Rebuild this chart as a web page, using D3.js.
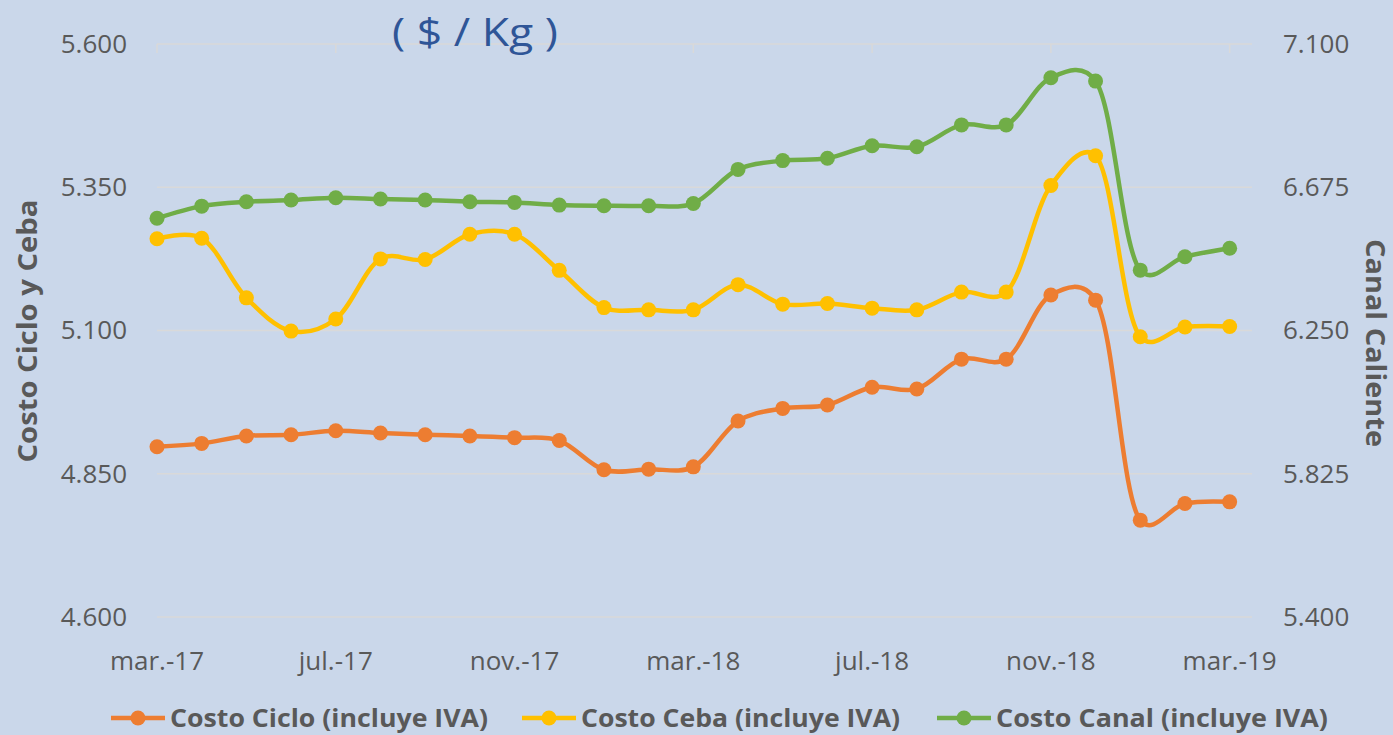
<!DOCTYPE html>
<html>
<head>
<meta charset="utf-8">
<script src="https://cdn.jsdelivr.net/npm/d3@7"></script>
<style>
  body { margin: 0; background: #cad7ea; }
  svg { display: block; }
</style>
</head>
<body>
<div id="chart-area"></div>
<script>
// Months (mar.-17 .. mar.-19)
var months = ["mar.-17","abr.-17","may.-17","jun.-17","jul.-17","ago.-17","sep.-17","oct.-17","nov.-17","dic.-17",
    "ene.-18","feb.-18","mar.-18","abr.-18","may.-18","jun.-18","jul.-18","ago.-18","sep.-18","oct.-18",
    "nov.-18","dic.-18","ene.-19","feb.-19","mar.-19"];

var costoCiclo = [4.897, 4.903, 4.916, 4.918, 4.925, 4.921, 4.918, 4.916, 4.913, 4.908,
    4.857, 4.858, 4.862, 4.942, 4.964, 4.970, 5.001, 4.998, 5.050, 5.050,
    5.162, 5.153, 4.769, 4.798, 4.801];

var costoCeba = [5.260, 5.261, 5.157, 5.099, 5.120, 5.225, 5.224, 5.268, 5.268, 5.205,
    5.140, 5.136, 5.136, 5.180, 5.146, 5.147, 5.139, 5.136, 5.167, 5.167,
    5.353, 5.405, 5.089, 5.106, 5.107];

var costoCanal = [6.583, 6.619, 6.632, 6.637, 6.644, 6.640, 6.637, 6.632, 6.630, 6.622,
    6.620, 6.620, 6.627, 6.728, 6.754, 6.761, 6.798, 6.795, 6.860, 6.860,
    7.000, 6.990, 6.429, 6.469, 6.494];

var leftTicks = [4.600, 4.850, 5.100, 5.350, 5.600];
var rightTicks = [5.400, 5.825, 6.250, 6.675, 7.100];
var labelMonths = [0, 4, 8, 12, 16, 20, 24];

var seriesNames = ["Costo Ciclo (incluye IVA)", "Costo Ceba (incluye IVA)", "Costo Canal (incluye IVA)"];
var seriesColors = ["#ed7d31", "#ffc000", "#70ad47"];

var width = 1393, height = 735;
var textColor = "#595959";
var font = "'Open Sans', 'Noto Sans', sans-serif";

var svg = d3.select("#chart-area")
    .append("svg")
    .attr("width", width)
    .attr("height", height);

svg.append("rect")
    .attr("width", width)
    .attr("height", height)
    .attr("fill", "#cad7ea");

// Scales
var x = d3.scaleLinear()
    .domain([0, 24.5])
    .range([157, 1252]);

var yLeft = d3.scaleLinear()
    .domain([4.6, 5.6])
    .range([617, 44]);

var yRight = d3.scaleLinear()
    .domain([5.4, 7.1])
    .range([617, 44]);

// Gridlines
svg.append("g")
    .selectAll("line")
    .data(leftTicks)
    .enter()
    .append("line")
    .attr("x1", x(0))
    .attr("x2", x(24.5))
    .attr("y1", function(d){ return yLeft(d); })
    .attr("y2", function(d){ return yLeft(d); })
    .attr("stroke", "#d9d9d9")
    .attr("stroke-width", 1.5);

// Category ticks on the top line
svg.append("g")
    .selectAll("line")
    .data(labelMonths)
    .enter()
    .append("line")
    .attr("x1", function(d){ return x(d); })
    .attr("x2", function(d){ return x(d); })
    .attr("y1", yLeft(5.6))
    .attr("y2", yLeft(5.6) + 9)
    .attr("stroke", "#d9d9d9")
    .attr("stroke-width", 1.5);

// Left axis
var leftAxis = d3.axisLeft(yLeft)
    .tickValues(leftTicks)
    .tickSize(0)
    .tickPadding(0)
    .tickFormat(d3.format(".3f"));

var gl = svg.append("g")
    .attr("transform", "translate(127,0)")
    .call(leftAxis);
gl.select(".domain").remove();
gl.selectAll("text")
    .attr("fill", textColor)
    .attr("font-family", font)
    .attr("font-size", "26px");

// Right axis
var rightAxis = d3.axisRight(yRight)
    .tickValues(rightTicks)
    .tickSize(0)
    .tickPadding(0)
    .tickFormat(d3.format(".3f"));

var gr = svg.append("g")
    .attr("transform", "translate(1283,0)")
    .call(rightAxis);
gr.select(".domain").remove();
gr.selectAll("text")
    .attr("fill", textColor)
    .attr("font-family", font)
    .attr("font-size", "26px");

// X labels
svg.append("g")
    .selectAll("text")
    .data(labelMonths)
    .enter()
    .append("text")
    .attr("x", function(d){ return x(d); })
    .attr("y", 670)
    .attr("text-anchor", "middle")
    .attr("fill", textColor)
    .attr("font-family", font)
    .attr("font-size", "26px")
    .text(function(d){ return months[d]; });

// Axis titles
svg.append("text")
    .attr("transform", "translate(37,331) rotate(-90)")
    .attr("text-anchor", "middle")
    .attr("fill", textColor)
    .attr("font-family", font)
    .attr("font-weight", "bold")
    .attr("font-size", "26px")
    .attr("textLength", 263)
    .attr("lengthAdjust", "spacingAndGlyphs")
    .text("Costo Ciclo y Ceba");

svg.append("text")
    .attr("transform", "translate(1366,343) rotate(90)")
    .attr("text-anchor", "middle")
    .attr("fill", textColor)
    .attr("font-family", font)
    .attr("font-weight", "bold")
    .attr("font-size", "26px")
    .attr("textLength", 208)
    .attr("lengthAdjust", "spacingAndGlyphs")
    .text("Canal Caliente");

// Title
svg.append("text")
    .attr("x", 392)
    .attr("y", 46)
    .attr("fill", "#2f5597")
    .attr("font-family", font)
    .attr("font-size", "38px")
    .attr("textLength", 166)
    .attr("lengthAdjust", "spacingAndGlyphs")
    .text("( $ / Kg )");

// Lines
var series = [
    { values: costoCiclo, y: yLeft },
    { values: costoCeba, y: yLeft },
    { values: costoCanal, y: yRight }
];

series.forEach(function(s, i){
    var line = d3.line()
        .x(function(d, j){ return x(j); })
        .y(function(d){ return s.y(d); })
        .curve(d3.curveCatmullRom.alpha(0.25));

    svg.append("path")
        .datum(s.values)
        .attr("d", line)
        .attr("fill", "none")
        .attr("stroke", seriesColors[i])
        .attr("stroke-width", 4.5)
        .attr("stroke-linejoin", "round")
        .attr("stroke-linecap", "round");

    svg.append("g")
        .selectAll("circle")
        .data(s.values)
        .enter()
        .append("circle")
        .attr("cx", function(d, j){ return x(j); })
        .attr("cy", function(d){ return s.y(d); })
        .attr("r", 7.5)
        .attr("fill", seriesColors[i]);
});

// Legend
var legendX = [111, 522, 937];
var legendW = [318, 319, 332];

var legend = svg.append("g")
    .selectAll("g")
    .data(seriesNames)
    .enter()
    .append("g")
    .attr("transform", function(d, i){ return "translate(" + legendX[i] + ",718)"; });

legend.append("line")
    .attr("x1", 0)
    .attr("x2", 54)
    .attr("stroke", function(d, i){ return seriesColors[i]; })
    .attr("stroke-width", 4.5);

legend.append("circle")
    .attr("cx", 27)
    .attr("r", 7.5)
    .attr("fill", function(d, i){ return seriesColors[i]; });

legend.append("text")
    .attr("x", 59)
    .attr("y", 9)
    .attr("fill", textColor)
    .attr("font-family", font)
    .attr("font-weight", "bold")
    .attr("font-size", "25px")
    .attr("textLength", function(d, i){ return legendW[i]; })
    .attr("lengthAdjust", "spacingAndGlyphs")
    .text(function(d){ return d; });
</script>
</body>
</html>
